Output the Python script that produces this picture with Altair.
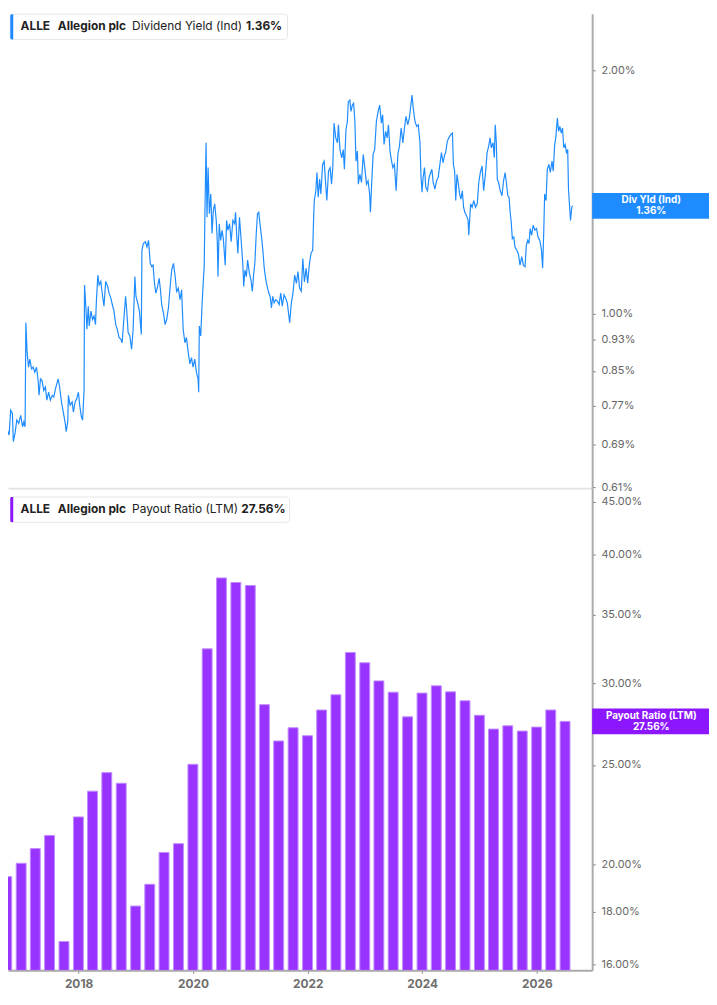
import altair as alt
import pandas as pd

# Dividend yield (Ind), %
yield_dates = [
    "2016-08-19", "2016-08-30", "2016-09-05", "2016-09-13", "2016-09-24", "2016-10-04", "2016-10-15", "2016-10-25",
    "2016-11-05", "2016-11-11", "2016-11-22", "2016-12-03", "2016-12-15", "2016-12-28", "2017-01-09", "2017-01-17",
    "2017-01-25", "2017-01-30", "2017-02-07", "2017-02-16", "2017-02-24", "2017-03-07", "2017-03-17", "2017-03-28",
    "2017-04-08", "2017-04-18", "2017-04-24", "2017-05-03", "2017-05-13", "2017-05-24", "2017-06-03", "2017-06-13",
    "2017-06-24", "2017-07-05", "2017-07-17", "2017-07-27", "2017-08-07", "2017-08-15", "2017-08-24", "2017-09-02",
    "2017-09-14", "2017-09-27", "2017-10-08", "2017-10-14", "2017-10-24", "2017-10-28", "2017-11-08", "2017-11-21",
    "2017-11-29", "2017-12-10", "2017-12-20", "2017-12-31", "2018-01-08", "2018-01-19", "2018-01-27", "2018-02-05",
    "2018-02-08", "2018-02-17", "2018-02-23", "2018-03-04", "2018-03-10", "2018-03-21", "2018-03-31", "2018-04-10",
    "2018-04-19", "2018-04-25", "2018-05-04", "2018-05-12", "2018-05-23", "2018-06-02", "2018-06-12", "2018-06-23",
    "2018-07-06", "2018-07-14", "2018-07-26", "2018-08-04", "2018-08-15", "2018-08-26", "2018-09-05", "2018-09-16",
    "2018-09-28", "2018-10-06", "2018-10-15", "2018-10-28", "2018-11-05", "2018-11-13", "2018-11-24", "2018-12-05",
    "2018-12-15", "2018-12-26", "2019-01-02", "2019-01-13", "2019-01-24", "2019-02-05", "2019-02-09", "2019-02-18",
    "2019-03-03", "2019-03-13", "2019-03-23", "2019-04-03", "2019-04-13", "2019-04-21", "2019-04-30", "2019-05-09",
    "2019-05-20", "2019-05-30", "2019-06-07", "2019-06-15", "2019-06-26", "2019-07-07", "2019-07-17", "2019-07-28",
    "2019-08-08", "2019-08-18", "2019-08-29", "2019-09-08", "2019-09-18", "2019-09-29", "2019-10-10", "2019-10-20",
    "2019-10-30", "2019-11-10", "2019-11-20", "2019-12-01", "2019-12-12", "2019-12-22", "2020-01-01", "2020-01-12",
    "2020-01-22", "2020-02-02", "2020-02-06", "2020-02-10", "2020-02-19", "2020-02-27", "2020-03-07", "2020-03-12",
    "2020-03-16", "2020-03-24", "2020-03-30", "2020-04-06", "2020-04-14", "2020-04-23", "2020-05-01", "2020-05-09",
    "2020-05-18", "2020-05-28", "2020-06-04", "2020-06-08", "2020-06-16", "2020-06-25", "2020-07-04", "2020-07-12",
    "2020-07-24", "2020-08-02", "2020-08-10", "2020-08-21", "2020-08-31", "2020-09-11", "2020-09-22", "2020-09-28",
    "2020-10-06", "2020-10-13", "2020-10-23", "2020-11-02", "2020-11-13", "2020-11-19", "2020-11-27", "2020-12-06",
    "2020-12-14", "2020-12-25", "2021-01-04", "2021-01-13", "2021-01-21", "2021-01-29", "2021-02-07", "2021-02-15",
    "2021-02-23", "2021-03-05", "2021-03-13", "2021-03-21", "2021-03-30", "2021-04-09", "2021-04-20", "2021-04-28",
    "2021-05-07", "2021-05-15", "2021-05-23", "2021-06-01", "2021-06-11", "2021-06-22", "2021-07-03", "2021-07-13",
    "2021-07-23", "2021-08-03", "2021-08-13", "2021-08-24", "2021-09-02", "2021-09-08", "2021-09-19", "2021-09-29",
    "2021-10-10", "2021-10-21", "2021-10-31", "2021-11-10", "2021-11-21", "2021-12-01", "2021-12-11", "2021-12-22",
    "2022-01-01", "2022-01-11", "2022-01-22", "2022-02-02", "2022-02-08", "2022-02-12", "2022-02-22", "2022-03-01",
    "2022-03-09", "2022-03-18", "2022-03-26", "2022-04-06", "2022-04-16", "2022-04-27", "2022-05-03", "2022-05-14",
    "2022-05-24", "2022-06-02", "2022-06-10", "2022-06-18", "2022-06-29", "2022-07-10", "2022-07-16", "2022-07-26",
    "2022-08-06", "2022-08-16", "2022-08-23", "2022-09-02", "2022-09-11", "2022-09-17", "2022-09-27", "2022-10-04",
    "2022-10-13", "2022-10-21", "2022-10-29", "2022-11-05", "2022-11-14", "2022-11-20", "2022-11-30", "2022-12-10",
    "2022-12-21", "2022-12-31", "2023-01-11", "2023-01-21", "2023-01-31", "2023-02-05", "2023-02-13", "2023-02-22",
    "2023-03-04", "2023-03-15", "2023-03-26", "2023-04-05", "2023-04-16", "2023-04-24", "2023-05-03", "2023-05-13",
    "2023-05-23", "2023-05-31", "2023-06-10", "2023-06-18", "2023-06-28", "2023-07-08", "2023-07-19", "2023-07-30",
    "2023-08-09", "2023-08-20", "2023-08-31", "2023-09-10", "2023-09-20", "2023-10-01", "2023-10-11", "2023-10-21",
    "2023-10-28", "2023-11-05", "2023-11-16", "2023-11-27", "2023-12-07", "2023-12-18", "2023-12-24", "2023-12-31",
    "2024-01-07", "2024-01-16", "2024-01-24", "2024-02-04", "2024-02-14", "2024-02-25", "2024-03-03", "2024-03-11",
    "2024-03-22", "2024-04-02", "2024-04-12", "2024-04-23", "2024-05-03", "2024-05-13", "2024-05-24", "2024-05-30",
    "2024-06-09", "2024-06-19", "2024-07-01", "2024-07-12", "2024-07-18", "2024-07-26", "2024-08-02", "2024-08-10",
    "2024-08-19", "2024-08-27", "2024-09-04", "2024-09-13", "2024-09-21", "2024-09-29", "2024-10-10", "2024-10-20",
    "2024-10-24", "2024-11-05", "2024-11-15", "2024-11-25", "2024-12-06", "2024-12-17", "2024-12-27", "2025-01-06",
    "2025-01-17", "2025-01-27", "2025-02-07", "2025-02-18", "2025-02-28", "2025-03-09", "2025-03-17", "2025-03-28",
    "2025-04-05", "2025-04-11", "2025-04-18", "2025-04-24", "2025-05-02", "2025-05-13", "2025-05-24", "2025-06-03",
    "2025-06-13", "2025-06-21", "2025-06-30", "2025-07-08", "2025-07-15", "2025-07-21", "2025-07-29", "2025-08-07",
    "2025-08-15", "2025-08-26", "2025-09-05", "2025-09-16", "2025-09-27", "2025-10-07", "2025-10-18", "2025-10-26",
    "2025-11-04", "2025-11-12", "2025-11-20", "2025-11-29", "2025-12-09", "2025-12-20", "2025-12-30", "2026-01-09",
    "2026-01-20", "2026-01-31", "2026-02-07", "2026-02-14", "2026-02-20", "2026-03-01", "2026-03-09", "2026-03-19",
    "2026-03-28", "2026-04-08", "2026-04-16", "2026-04-25", "2026-05-03", "2026-05-12", "2026-05-20", "2026-05-28",
    "2026-06-06", "2026-06-14", "2026-06-22", "2026-07-01", "2026-07-09", "2026-07-17", "2026-07-22", "2026-07-28",
    "2026-08-04", "2026-08-12", "2026-08-18",
]
yield_values = [
    0.673, 0.663, 0.715, 0.722, 0.692, 0.718, 0.708, 0.760,
    0.753, 0.695, 0.712, 0.739, 0.732, 0.749, 0.725, 0.735,
    0.725, 0.975, 0.896, 0.859, 0.879, 0.855, 0.859, 0.847,
    0.859, 0.827, 0.793, 0.831, 0.827, 0.804, 0.812, 0.782,
    0.800, 0.782, 0.793, 0.789, 0.808, 0.819, 0.831, 0.812,
    0.778, 0.753, 0.732, 0.715, 0.735, 0.793, 0.771, 0.778,
    0.756, 0.778, 0.785, 0.800, 0.771, 0.746, 0.739, 0.804,
    1.086, 1.017, 0.957, 1.022, 0.966, 1.008, 0.984, 0.994,
    0.970, 1.041, 1.117, 1.086, 1.097, 1.056, 1.022, 1.097,
    1.081, 1.061, 1.046, 1.027, 1.008, 0.970, 0.957, 0.935,
    0.930, 0.921, 0.975, 1.051, 1.003, 0.948, 0.939, 0.904,
    0.957, 1.112, 1.051, 1.032, 1.008, 0.943, 1.199, 1.222,
    1.228, 1.210, 1.233, 1.155, 1.144, 1.149, 1.091, 1.061,
    1.081, 1.107, 1.071, 1.027, 1.003, 0.970, 0.984, 1.017,
    1.081, 1.133, 1.155, 1.117, 1.066, 1.076, 1.041, 1.071,
    0.957, 0.921, 0.935, 0.896, 0.867, 0.883, 0.859, 0.879,
    0.847, 0.831, 0.800, 0.966, 0.939, 1.022, 1.102, 1.144,
    1.305, 1.628, 1.317, 1.517, 1.330, 1.407, 1.257, 1.342,
    1.368, 1.305, 1.222, 1.112, 1.293, 1.233, 1.269, 1.239,
    1.149, 1.305, 1.269, 1.293, 1.228, 1.305, 1.293, 1.336,
    1.245, 1.188, 1.317, 1.239, 1.155, 1.081, 1.133, 1.112,
    1.166, 1.123, 1.102, 1.066, 1.117, 1.155, 1.257, 1.330,
    1.336, 1.281, 1.245, 1.199, 1.139, 1.102, 1.076, 1.061,
    1.051, 1.017, 1.051, 1.032, 1.041, 1.037, 1.027, 1.061,
    1.022, 1.056, 1.046, 1.032, 0.998, 0.975, 1.032, 1.061,
    1.117, 1.091, 1.128, 1.076, 1.067, 1.171, 1.095, 1.139,
    1.091, 1.149, 1.188, 1.199, 1.317, 1.381, 1.420, 1.496,
    1.394, 1.468, 1.407, 1.531, 1.545, 1.434, 1.381, 1.502,
    1.517, 1.447, 1.517, 1.722, 1.651, 1.628, 1.714, 1.597,
    1.560, 1.597, 1.510, 1.690, 1.730, 1.830, 1.839, 1.780,
    1.813, 1.822, 1.730, 1.545, 1.590, 1.447, 1.488, 1.454,
    1.575, 1.517, 1.447, 1.461, 1.407, 1.336, 1.447, 1.575,
    1.597, 1.730, 1.780, 1.813, 1.722, 1.763, 1.620, 1.682,
    1.651, 1.714, 1.590, 1.553, 1.517, 1.531, 1.420, 1.575,
    1.612, 1.698, 1.628, 1.698, 1.755, 1.714, 1.747, 1.813,
    1.865, 1.797, 1.730, 1.706, 1.714, 1.628, 1.488, 1.414,
    1.475, 1.517, 1.434, 1.420, 1.475, 1.496, 1.510, 1.454,
    1.427, 1.461, 1.475, 1.531, 1.583, 1.538, 1.575, 1.583,
    1.635, 1.651, 1.666, 1.674, 1.531, 1.502, 1.381, 1.488,
    1.447, 1.407, 1.387, 1.420, 1.355, 1.336, 1.323, 1.305,
    1.251, 1.368, 1.355, 1.381, 1.355, 1.368, 1.454, 1.496,
    1.524, 1.420, 1.488, 1.583, 1.612, 1.651, 1.605, 1.628,
    1.560, 1.714, 1.628, 1.468, 1.454, 1.420, 1.400, 1.461,
    1.496, 1.454, 1.400, 1.394, 1.336, 1.305, 1.239, 1.245,
    1.210, 1.199, 1.188, 1.149, 1.177, 1.149, 1.144, 1.216,
    1.233, 1.222, 1.275, 1.251, 1.287, 1.269, 1.275, 1.245,
    1.233, 1.199, 1.139, 1.257, 1.407, 1.381, 1.510, 1.531,
    1.496, 1.545, 1.502, 1.620, 1.658, 1.747, 1.682, 1.706,
    1.674, 1.698, 1.605, 1.620, 1.583, 1.597, 1.427, 1.368,
    1.305, 1.355, 1.360,
]

# Payout ratio (LTM), %, quarterly
payout_dates = [
    "2016-09-30", "2016-12-31", "2017-03-31", "2017-06-30", "2017-09-30", "2017-12-31",
    "2018-03-31", "2018-06-30", "2018-09-30", "2018-12-31", "2019-03-31", "2019-06-30",
    "2019-09-30", "2019-12-31", "2020-03-31", "2020-06-30", "2020-09-30", "2020-12-31",
    "2021-03-31", "2021-06-30", "2021-09-30", "2021-12-31", "2022-03-31", "2022-06-30",
    "2022-09-30", "2022-12-31", "2023-03-31", "2023-06-30", "2023-09-30", "2023-12-31",
    "2024-03-31", "2024-06-30", "2024-09-30", "2024-12-31", "2025-03-31", "2025-06-30",
    "2025-09-30", "2025-12-31", "2026-03-31", "2026-06-30",
]
payout_values = [
    19.48, 20.07, 20.74, 21.36, 16.85, 22.26,
    23.58, 24.58, 24.00, 18.24, 19.15, 20.56,
    20.97, 25.04, 32.41, 37.98, 37.59, 37.34,
    28.61, 26.38, 27.17, 26.69, 28.27, 29.25,
    32.15, 31.42, 30.17, 29.42, 27.84, 29.36,
    29.84, 29.44, 28.86, 27.94, 27.09, 27.29,
    26.97, 27.21, 28.27, 27.56,
]

yield_ticks = [0.61, 0.69, 0.77, 0.85, 0.93, 1.00, 2.00]
payout_ticks = [16, 18, 20, 25, 30, 35, 40, 45]
year_ticks = [2018, 2020, 2022, 2024, 2026]

W = 590
TOP_H = 479
BOT_H = 487
FONT = "Inter"
BLUE = "#1e8cff"
PURPLE = "#9933ff"
PURPLE_DARK = "#8c17ff"
AXIS_GREY = "#aaaaaa"

ONE = pd.DataFrame({"k": [0]})

x_scale = alt.Scale(
    domain=[alt.DateTime(year=2016, month=10, date=8), alt.DateTime(year=2026, month=12, date=20)],
    nice=False,
)


def text(label, x, y, size=12, weight="normal", color="#222222", align="left", dy=0):
    return (
        alt.Chart(ONE)
        .mark_text(text=label, align=align, baseline="middle", font=FONT, fontSize=size,
                   fontWeight=weight, color=color, dy=dy)
        .encode(x=alt.value(x), y=alt.value(y))
    )


def header(parts, accent, box_w, top):
    """Legend box in the top-left corner of a panel."""
    box = alt.Chart(ONE).mark_rect(fill="white", stroke="#e6e6e6", strokeWidth=1, cornerRadius=3).encode(
        x=alt.value(2.3), x2=alt.value(2.3 + box_w), y=alt.value(top), y2=alt.value(top + 25.5)
    )
    bar = alt.Chart(ONE).mark_rect(color=accent, cornerRadiusTopLeft=2, cornerRadiusBottomLeft=2).encode(
        x=alt.value(2.3), x2=alt.value(5.3), y=alt.value(top), y2=alt.value(top + 25.5)
    )
    layers = [box, bar]
    for label, x, weight in parts:
        layers.append(text(label, x, top + 12.5, weight=weight))
    return alt.layer(*layers)


def pct_axis(ticks):
    return alt.Axis(
        orient="right", values=ticks, title=None, grid=False,
        labelExpr="format(datum.value, '.2f') + '%'",
        labelFont=FONT, labelFontSize=11, labelColor="#666666", labelPadding=6,
        labelOverlap=False, labelFlush=False,
        tickColor="#777777", tickSize=3, tickWidth=1,
        domainColor=AXIS_GREY, domainWidth=2,
    )


def value_box(df, color, title, value_text):
    """Coloured tag on the right axis at the latest value."""
    box = alt.Chart(df).mark_rect(color=color, height=26).encode(
        x=alt.value(590), x2=alt.value(708), y="value:Q"
    )
    t1 = alt.Chart(df).mark_text(
        text=title, font=FONT, fontSize=10, fontWeight="bold", color="white", dy=-5.5
    ).encode(x=alt.value(649.7), y="value:Q")
    t2 = alt.Chart(df).mark_text(
        text=value_text, font=FONT, fontSize=10, fontWeight="bold", color="white", dy=5.5
    ).encode(x=alt.value(649.7), y="value:Q")
    return [box, t1, t2]


# ---- top panel: dividend yield
df_yield = pd.DataFrame({"date": yield_dates, "value": yield_values})
df_yield_last = pd.DataFrame({"value": [yield_values[-1]]})

yield_line = (
    alt.Chart(df_yield)
    .mark_line(color=BLUE, strokeWidth=1.2, clip=True)
    .encode(
        x=alt.X("date:T", scale=x_scale,
                axis=alt.Axis(labels=False, ticks=False, title=None, grid=False,
                              domainColor="#e2e2e2", domainWidth=2)),
        y=alt.Y("value:Q", scale=alt.Scale(type="log", domain=[0.6087, 2.3507], nice=False),
                axis=pct_axis(yield_ticks)),
    )
)

top = alt.layer(
    yield_line,
    header([("ALLE", 12.7, "bold"), ("Allegion plc", 50.3, "bold"),
            ("Dividend Yield (Ind)", 125.3, "normal"), (f"{yield_values[-1]:.2f}%", 240.3, "bold")],
           BLUE, 280, 0.3),
    *value_box(df_yield_last, BLUE, "Div Yld (Ind)", f"{yield_values[-1]:.2f}%"),
).properties(width=W, height=TOP_H)

# ---- bottom panel: payout ratio
df_payout = pd.DataFrame({"date": payout_dates, "value": payout_values})
df_payout_last = pd.DataFrame({"value": [payout_values[-1]]})

# rect instead of bar: the log scale has no zero baseline, so the bar foot is the panel floor
payout_bars = (
    alt.Chart(df_payout)
    .mark_rect(color=PURPLE, stroke="#c08cff", strokeWidth=1, width=10, clip=True)
    .encode(
        x=alt.X("date:T", scale=x_scale,
                axis=alt.Axis(values=[alt.DateTime(year=y, month=1, date=1) for y in year_ticks],
                              format="%Y", title=None, grid=False,
                              labelFont=FONT, labelFontSize=12, labelFontWeight="bold",
                              labelColor="#6e6e6e", labelPadding=5, labelFlush=False,
                              tickColor="#888888", tickSize=3,
                              domainColor=AXIS_GREY, domainWidth=2)),
        y=alt.Y("value:Q", scale=alt.Scale(type="log", domain=[15.80, 46.42], nice=False),
                axis=pct_axis(payout_ticks)),
        y2=alt.value(BOT_H),
    )
)

bottom = alt.layer(
    payout_bars,
    header([("ALLE", 12.7, "bold"), ("Allegion plc", 50.3, "bold"),
            ("Payout Ratio (LTM)", 125.3, "normal"), (f"{payout_values[-1]:.2f}%", 235.7, "bold")],
           PURPLE_DARK, 282, 9),
    *value_box(df_payout_last, PURPLE_DARK, "Payout Ratio (LTM)", f"{payout_values[-1]:.2f}%"),
).properties(width=W, height=BOT_H)

chart = (
    alt.vconcat(top, bottom, spacing=0, bounds="flush")
    .properties(padding=0, background="white")
    .configure_view(strokeWidth=0)
)

chart.save("out.html", embed_options={"renderer": "svg", "actions": False})
